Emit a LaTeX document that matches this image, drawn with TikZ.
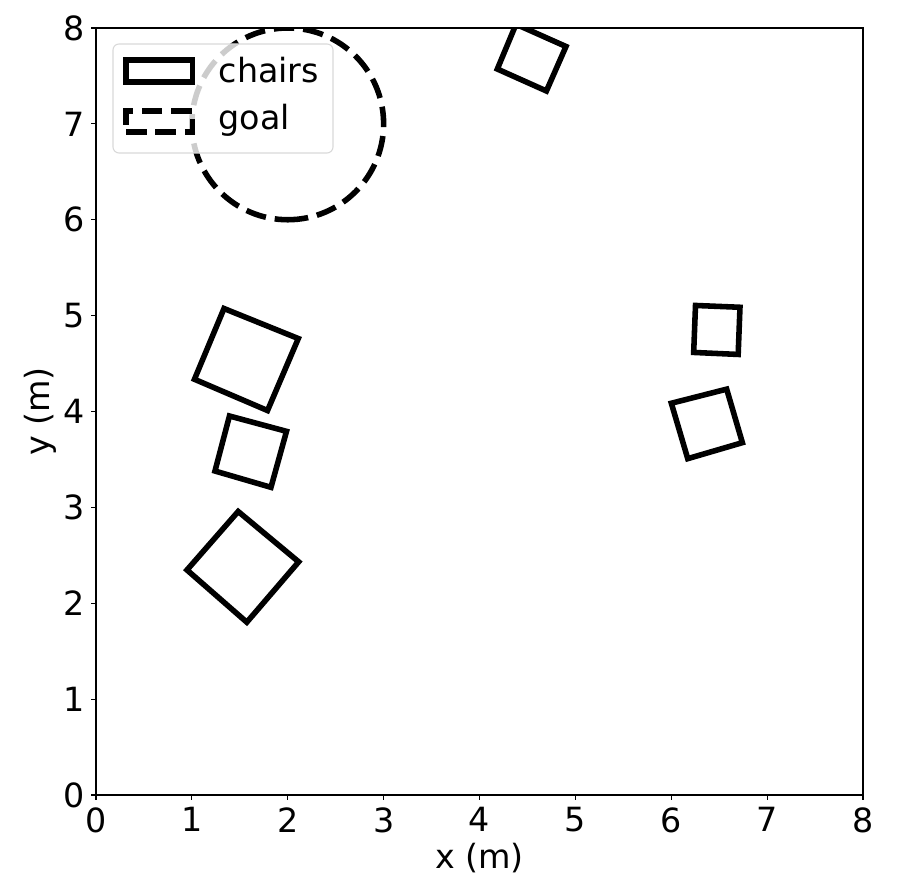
\documentclass[tikz,border=0pt]{standalone}
\usepackage{fontspec}
\setmainfont{DejaVu Sans}
\begin{document}
\begin{tikzpicture}[x=0.75pt,y=0.75pt,
  lbl/.style={font=\fontsize{25}{30}\selectfont, inner sep=0pt},
  chair/.style={draw=black, line width=4.17pt, line join=miter},
  goalc/.style={draw=black, line width=4.17pt, dash pattern=on 15.4pt off 6.7pt},
  spine/.style={draw=black, line width=0.83pt},
  tickmark/.style={draw=black, line width=0.83pt},
  legframe/.style={draw=black!15, line width=0.83pt, fill=white, fill opacity=0.8, rounded corners=4.5pt}]
\useasboundingbox (0,0) rectangle (901,889);
\begin{scope}[shift={(96,94)}, x=71.906pt, y=71.906pt]
  \begin{scope}
    \clip (0,0) rectangle (8,8);
    \draw[chair] (1.335,5.074) -- (2.110,4.761) -- (1.789,4.010) -- (1.027,4.336) -- cycle;
    \draw[chair] (1.392,3.953) -- (1.987,3.793) -- (1.825,3.209) -- (1.241,3.379) -- cycle;
    \draw[chair] (1.483,2.957) -- (2.114,2.432) -- (1.573,1.802) -- (0.949,2.347) -- cycle;
    \draw[chair] (4.381,8.039) -- (4.902,7.807) -- (4.698,7.343) -- (4.186,7.572) -- cycle;
    \draw[chair] (6.253,5.106) -- (6.717,5.087) -- (6.698,4.595) -- (6.234,4.616) -- cycle;
    \draw[chair] (6.001,4.086) -- (6.578,4.233) -- (6.742,3.675) -- (6.172,3.508) -- cycle;
    \draw[goalc] (2,6) arc[start angle=-90, end angle=270, radius=1];
  \end{scope}
  \draw[spine] (0,0) rectangle (8,8);
  \foreach \i in {0,...,8} {
    \draw[tickmark] (\i,0) -- ++(0,-3.65pt);
    \draw[tickmark] (0,\i) -- ++(-3.65pt,0);
    \node[lbl, anchor=north, yshift=-9pt] (tx\i) at (\i,0) {\i};
    \node[lbl, anchor=east, xshift=-8pt] (ty\i) at (0,\i) {\i};
  }
\end{scope}
\draw[legframe] (113,845) rectangle (333,736);
\draw[chair] (126,807) -- (192.5,807) -- (192.5,829) -- (126,829) -- cycle;
\draw[goalc] (126,757) -- (192.5,757) -- (192.5,778) -- (126,778) -- cycle;
\node[lbl, anchor=base west] (lchairs) at (218.5,806) {chairs};
\node[lbl, anchor=base west] (lgoal) at (218.5,759) {goal};
\node[lbl, anchor=base] (xlab) at (479.5,20) {x (m)};
\node[lbl, anchor=base, rotate=90] (ylab) at (49,477.5) {y (m)};
\end{tikzpicture}
\end{document}
